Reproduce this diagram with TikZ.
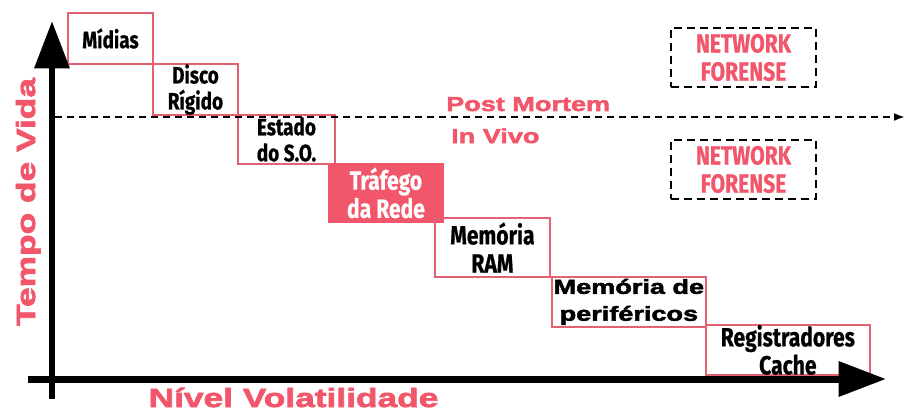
\documentclass[tikz,border=0pt]{standalone}
\usepackage{fontspec}
\usepackage{xcolor}
\usepackage{tikz}
\usetikzlibrary{arrows.meta,positioning}
\newfontfamily\narrowfont[FakeStretch=0.8,FakeBold=0.6]{Fira Sans}
\newfontfamily\blackfont[FakeStretch=1.34,FakeBold=2.6]{Liberation Sans}
\definecolor{forensered}{RGB}{242, 86, 106}
\definecolor{boxred}{RGB}{226, 98, 116}

\begin{document}
\begin{tikzpicture}[
  x=0.02cm, y=-0.02cm,
  stepbox/.style={rectangle, draw=boxred, line width=1pt, outer sep=0pt, inner sep=0pt, align=center, font=\narrowfont\bfseries\fontsize{13.5}{14.8}\selectfont},
  hotbox/.style={stepbox, fill=forensered, draw=forensered, text=white, font=\narrowfont\bfseries\fontsize{15}{16}\selectfont},
  netbox/.style={rectangle, draw=black, dash pattern=on 0.16cm off 0.1cm, line width=1.2pt, minimum width=2.9cm, minimum height=1.02cm, align=center, text=forensered, font=\narrowfont\bfseries\fontsize{15}{16}\selectfont},
  axis/.style={line width=0.14cm, -{Triangle[length=0.95cm, width=0.68cm]}},
  redlabel/.style={text=forensered, font=\blackfont\bfseries\fontsize{15}{17}\selectfont},
  phase/.style={text=forensered, font=\blackfont\bfseries\fontsize{11.5}{13}\selectfont, anchor=base west},
  split/.style={line width=1.1pt, dash pattern=on 0.15cm off 0.09cm, -{Latex[length=0.22cm, width=0.16cm]}}
]
\useasboundingbox (0,0) rectangle (907,419);

% staircase of evidence sources
\node[stepbox, minimum width=1.7cm, minimum height=1.02cm, anchor=north west] (midias) at (68,13) {Mídias};
\node[stepbox, minimum width=1.7cm, minimum height=1.02cm, below right=0cm and 0cm of midias] (disco) {Disco\\Rígido};
\node[stepbox, minimum width=1.94cm, minimum height=0.98cm, below right=0cm and 0cm of disco] (estado) {Estado\\do S.O.};
\node[hotbox, minimum width=2.28cm, minimum height=1.16cm, below right=0cm and -0.12cm of estado] (trafego) {Tráfego\\da Rede};
\node[stepbox, minimum width=2.3cm, minimum height=1.18cm, below right=-0.08cm and -0.16cm of trafego, font=\narrowfont\bfseries\fontsize{15}{16}\selectfont] (ram) {Memória\\RAM};
\node[stepbox, minimum width=3.08cm, minimum height=1cm, below right=0cm and 0.04cm of ram, font=\blackfont\bfseries\fontsize{11.5}{15.3}\selectfont] (perif) {Memória de\\periféricos};
\node[stepbox, minimum width=3.28cm, minimum height=1cm, below right=-0.04cm and 0cm of perif, font=\narrowfont\bfseries\fontsize{15}{16}\selectfont] (regist) {Registradores\\Cache};

% network forensics
\node[netbox] (netup) at (743.5,57.5) {NETWORK\\FORENSE};
\node[netbox] (netdown) at (743.5,169.5) {NETWORK\\FORENSE};

% post mortem / in vivo split
\coordinate (splitstart) at (55,117);
\coordinate (splitend) at (905,117);
\draw[split] (splitstart) -- (splitend);
\node[phase] (postmortem) at (440,111) {Post Mortem};
\node[phase] (invivo) at (445,143) {In Vivo};

% axes
\coordinate (ybot) at (52,399);
\coordinate (ytop) at (52,21);
\coordinate (xleft) at (28,379);
\coordinate (xright) at (886,379);
\draw[axis] (ybot) -- (ytop);
\draw[axis] (xleft) -- (xright);
\node[redlabel, rotate=90, anchor=base] (lifetime) at (35,202) {Tempo de Vida};
\node[redlabel, anchor=base] (volatility) at (293.5,407) {Nível Volatilidade};
\end{tikzpicture}
\end{document}
